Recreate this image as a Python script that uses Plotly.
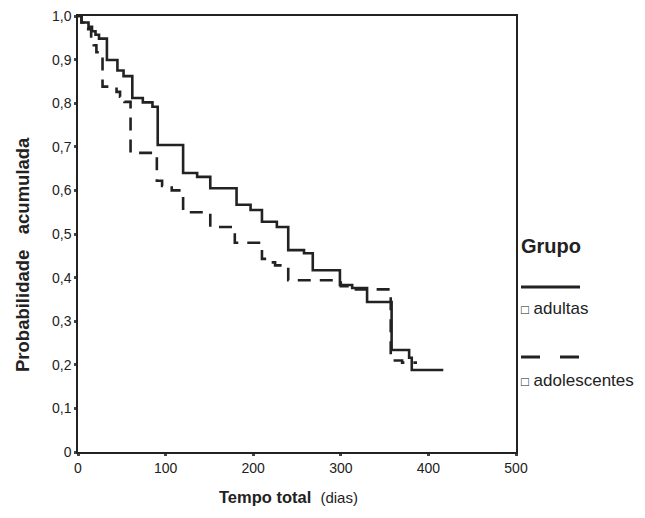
import plotly.graph_objects as go

# Kaplan-Meier style cumulative probability
adultas_t = [0, 4, 12, 16, 20, 24, 33, 45, 52, 62, 74, 85, 91, 120, 136, 151, 181, 197,
             210, 227, 240, 258, 268, 299, 313, 330, 358, 378, 381, 417]
adultas_p = [1.0, 0.985, 0.975, 0.965, 0.957, 0.948, 0.899, 0.875, 0.862, 0.812, 0.802, 0.792,
             0.704, 0.640, 0.631, 0.605, 0.567, 0.555, 0.528, 0.516, 0.463, 0.456, 0.417,
             0.383, 0.376, 0.344, 0.234, 0.216, 0.188, 0.188]

adolescentes_t = [0, 4, 10, 15, 18, 21, 28, 44, 48, 53, 60, 90, 96, 107, 120, 151, 179,
                  210, 218, 225, 240, 300, 315, 357, 370, 387]
adolescentes_p = [1.0, 0.985, 0.97, 0.945, 0.933, 0.917, 0.838, 0.826, 0.815, 0.803, 0.686,
                  0.622, 0.61, 0.60, 0.55, 0.516, 0.48, 0.443, 0.435, 0.428, 0.394, 0.38,
                  0.373, 0.21, 0.205, 0.205]

x_ticks = [0, 100, 200, 300, 400, 500]
y_ticks = [0, 0.1, 0.2, 0.3, 0.4, 0.5, 0.6, 0.7, 0.8, 0.9, 1.0]
y_tick_labels = ["0", "0,1", "0,2", "0,3", "0,4", "0,5", "0,6", "0,7", "0,8", "0,9", "1,0"]

legend_title = "Grupo"
group_names = ["adultas", "adolescentes"]

INK = "#222222"
FONT = "Liberation Sans, Arial, sans-serif"

fig = go.Figure()
fig.add_trace(go.Scatter(x=adultas_t, y=adultas_p, mode="lines", line_shape="hv",
                         line=dict(color=INK, width=2.6), name=group_names[0],
                         showlegend=False))
fig.add_trace(go.Scatter(x=adolescentes_t, y=adolescentes_p, mode="lines", line_shape="hv",
                         line=dict(color=INK, width=2.6, dash="13px,9px"),
                         name=group_names[1], showlegend=False))

# page body has an 8px margin: figure is 637x510 placed at (8,8)
fig.update_layout(
    width=637, height=510,
    margin=dict(l=70, r=129, t=8, b=66),
    paper_bgcolor="white", plot_bgcolor="white",
    font=dict(family=FONT, color=INK, size=14),
    xaxis=dict(range=[0, 500], tickvals=x_ticks, ticks="outside", ticklen=2, tickwidth=3,
               tickcolor="#444", showgrid=False, zeroline=False, showline=True,
               linecolor=INK, linewidth=1.5, mirror=True, automargin=False,
               ticklabeloverflow="allow",
               tickfont=dict(size=14, family=FONT, color=INK)),
    yaxis=dict(range=[0, 1], tickvals=y_ticks, ticktext=y_tick_labels, ticks="outside",
               ticklen=2, tickwidth=3, tickcolor="#444", showgrid=False, zeroline=False,
               showline=True, linecolor=INK, linewidth=1.5, mirror=True, automargin=False,
               ticklabeloverflow="allow",
               tickfont=dict(size=14, family=FONT, color=INK)),
)

# paper coords: plot domain spans x 78..516 px, y 16..452 px in the page
def px_x(px):
    return (px - 78) / 438.0

def px_y(py):
    return (452 - py) / 436.0

# axis titles
fig.add_annotation(x=px_x(288), y=px_y(497), xref="paper", yref="paper",
                   text="<b>Tempo total</b>  <span style='font-size:15px'>(dias)</span>",
                   showarrow=False, xanchor="center", yanchor="middle",
                   font=dict(size=16.5, family=FONT, color=INK))
fig.add_annotation(x=px_x(22), y=px_y(255), xref="paper", yref="paper",
                   text="<b>Probabilidade   acumulada</b>", textangle=-90,
                   showarrow=False, xanchor="center", yanchor="middle",
                   font=dict(size=18.5, family=FONT, color=INK))

# custom legend
fig.add_annotation(x=px_x(519), y=px_y(246), xref="paper", yref="paper", text="<b>" + legend_title + "</b>",
                   showarrow=False, xanchor="left", yanchor="middle",
                   font=dict(size=20, family=FONT, color=INK))
fig.add_shape(type="line", xref="paper", yref="paper", x0=px_x(521), x1=px_x(580),
              y0=px_y(287), y1=px_y(287), line=dict(color=INK, width=3))
fig.add_annotation(x=px_x(519), y=px_y(308), xref="paper", yref="paper",
                   text="<span style='font-size:13px'>\u25a1</span> " + group_names[0],
                   showarrow=False, xanchor="left",
                   yanchor="middle", font=dict(size=17, family=FONT, color=INK))
fig.add_shape(type="line", xref="paper", yref="paper", x0=px_x(521), x1=px_x(580),
              y0=px_y(357), y1=px_y(357), line=dict(color=INK, width=3, dash="19px,20px"))
fig.add_annotation(x=px_x(519), y=px_y(380), xref="paper", yref="paper",
                   text="<span style='font-size:13px'>\u25a1</span> " + group_names[1],
                   showarrow=False, xanchor="left",
                   yanchor="middle", font=dict(size=17, family=FONT, color=INK))

fig.write_html("out.html")
